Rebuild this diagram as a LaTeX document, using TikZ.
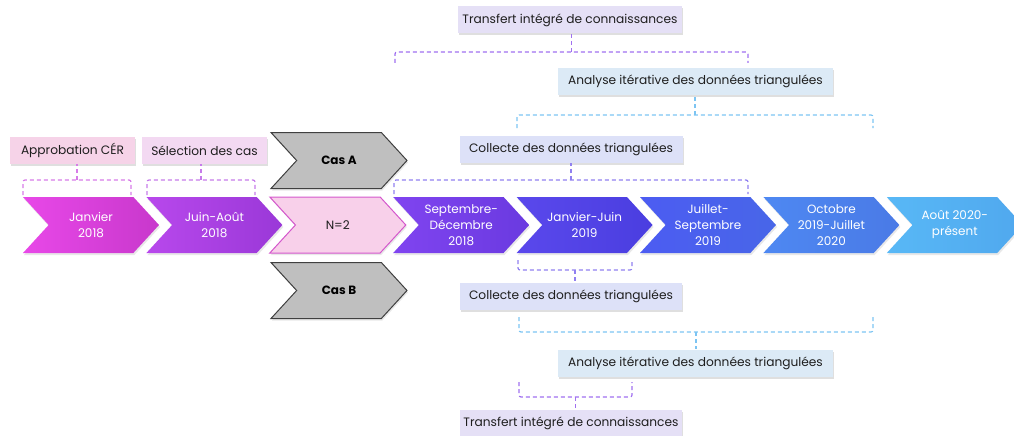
\documentclass[tikz,border=0pt]{standalone}
\usepackage{fontspec}
\setmainfont{Poppins}
\usetikzlibrary{shapes.symbols,shadows,calc}
\definecolor{txt}{HTML}{1E1E1E}
\definecolor{fAp}{HTML}{F6D3E8}
\definecolor{fSe}{HTML}{F3D9F2}
\definecolor{fTr}{HTML}{E5E0F6}
\definecolor{fAn}{HTML}{DCEAF6}
\definecolor{fCo}{HTML}{DDE1F8}
\definecolor{bAp}{HTML}{D77BE8}
\definecolor{bSe}{HTML}{C67BEA}
\definecolor{bPu}{HTML}{A070F0}
\definecolor{bBl}{HTML}{7CC4F2}
\definecolor{bLa}{HTML}{9080F0}
\definecolor{nFill}{HTML}{F8D0EA}
\definecolor{nDraw}{HTML}{D457CC}
\definecolor{casF}{HTML}{BFBFBF}
\definecolor{casD}{HTML}{404040}
\definecolor{l1}{HTML}{E848E8}\definecolor{r1}{HTML}{C838CC}
\definecolor{l2}{HTML}{B848EC}\definecolor{r2}{HTML}{9A38D8}
\definecolor{l4}{HTML}{8044F0}\definecolor{r4}{HTML}{6A3AE0}
\definecolor{l5}{HTML}{5A48EC}\definecolor{r5}{HTML}{4A3EE0}
\definecolor{l6}{HTML}{4C5CF2}\definecolor{r6}{HTML}{4866E8}
\definecolor{l7}{HTML}{4E88F2}\definecolor{r7}{HTML}{4A7AE6}
\definecolor{l8}{HTML}{58B8F6}\definecolor{r8}{HTML}{50A8EE}
\begin{document}
\begin{tikzpicture}[x=1pt,y=-1pt,
  chev/.style={signal, signal to=east, signal from=west, signal pointer angle=95,
    minimum width=136pt, minimum height=56pt, inner sep=0pt, text=white, align=center,
    font=\fontsize{12}{16}\selectfont,
    drop shadow={opacity=0.18, shadow xshift=1pt, shadow yshift=-2pt}},
  lbl/.style={rectangle, minimum height=27pt, inner sep=0pt, text=txt,
    font=\fontsize{12.2}{14}\selectfont,
    drop shadow={opacity=0.25, shadow xshift=1pt, shadow yshift=-2pt}},
  brk/.style={dash pattern=on 4pt off 3pt, line width=1.2pt, rounded corners=2pt}]
\useasboundingbox (0,0) rectangle (1014,436);

% chevrons
\node[chev, left color=l1, right color=r1] (c1) at (91,225) {Janvier\\2018};
\node[chev, left color=l2, right color=r2] (c2) at (214.4,225) {Juin-Août\\2018};
\node[chev, fill=nFill, draw=nDraw, line width=1pt, text=txt] (c3) at (337.8,225) {N=2};
\node[chev, left color=l4, right color=r4] (c4) at (461.2,225) {Septembre-\\Décembre\\2018};
\node[chev, left color=l5, right color=r5] (c5) at (584.6,225) {Janvier-Juin\\2019};
\node[chev, left color=l6, right color=r6] (c6) at (708,225) {Juillet-\\Septembre\\2019};
\node[chev, left color=l7, right color=r7] (c7) at (831.4,225) {Octobre\\2019-Juillet\\2020};
\node[chev, left color=l8, right color=r8] (c8) at (954.8,225) {Août 2020-\\présent};

\node[chev, fill=casF, draw=casD, line width=1pt, text=black, font=\fontsize{12}{14}\selectfont\bfseries] (ca) at (339,160.5) {Cas A};
\node[chev, fill=casF, draw=casD, line width=1pt, text=black, font=\fontsize{12}{14}\selectfont\bfseries] (cb) at (339,290.5) {Cas B};

% label boxes
\node[lbl, fill=fAp, minimum width=125pt] (ap) at (72.5,150.5) {Approbation CÉR};
\node[lbl, fill=fSe, minimum width=125pt] (se) at (204.5,150.5) {Sélection des cas};
\node[lbl, fill=fTr, minimum width=224pt] (tr1) at (570,20) {Transfert intégré de connaissances};
\node[lbl, fill=fAn, minimum width=275pt] (an1) at (695.5,81.5) {Analyse itérative des données triangulées};
\node[lbl, fill=fCo, minimum width=223pt] (co1) at (571,149.5) {Collecte des données triangulées};
\node[lbl, fill=fCo, minimum width=222pt] (co2) at (571,296.5) {Collecte des données triangulées};
\node[lbl, fill=fAn, minimum width=275pt] (an2) at (695.5,363) {Analyse itérative des données triangulées};
\node[lbl, fill=fTr, minimum width=222pt] (tr2) at (571,423) {Transfert intégré de connaissances};

% brackets (upward)
\coordinate (aL) at (23,195); \coordinate (aR) at (131,195);
\draw[brk, bAp] (aL) -- ++(0,-15) -| (aR);
\path ($(aL)!0.5!(aR)$) ++(0,-15) coordinate (aM);
\draw[brk, bAp] (aM) -- (aM |- ap.south);

\coordinate (sL) at (147,195); \coordinate (sR) at (255,195);
\draw[brk, bSe] (sL) -- ++(0,-15) -| (sR);
\path ($(sL)!0.5!(sR)$) ++(0,-15) coordinate (sM);
\draw[brk, bSe] (sM) -- (sM |- se.south);

\coordinate (tL) at (395,63); \coordinate (tR) at (748,63);
\draw[brk, bPu] (tL) -- ++(0,-11) -| (tR);
\path ($(tL)!0.5!(tR)$) ++(0,-11) coordinate (tM);
\draw[brk, bPu] (tM) -- (tM |- tr1.south);

\coordinate (nL) at (517,128); \coordinate (nR) at (873,128);
\draw[brk, bBl] (nL) -- ++(0,-13) -| (nR);
\path ($(nL)!0.5!(nR)$) ++(0,-13) coordinate (nM);
\draw[brk, bBl] (nM) -- (nM |- an1.south);

\coordinate (kL) at (394,194); \coordinate (kR) at (748,194);
\draw[brk, bLa] (kL) -- ++(0,-14) -| (kR);
\path ($(kL)!0.5!(kR)$) ++(0,-14) coordinate (kM);
\draw[brk, bLa] (kM) -- (kM |- co1.south);

% brackets (downward)
\coordinate (jL) at (518,260); \coordinate (jR) at (632,260);
\draw[brk, bLa] (jL) -- ++(0,10) -| (jR);
\path ($(jL)!0.5!(jR)$) ++(0,10) coordinate (jM);
\draw[brk, bLa] (jM) -- (jM |- co2.north);

\coordinate (gL) at (519,317); \coordinate (gR) at (873,317);
\draw[brk, bBl] (gL) -- ++(0,15) -| (gR);
\path ($(gL)!0.5!(gR)$) ++(0,15) coordinate (gM);
\draw[brk, bBl] (gM) -- (gM |- an2.north);

\coordinate (hL) at (519,382); \coordinate (hR) at (632,382);
\draw[brk, bPu] (hL) -- ++(0,15) -| (hR);
\path ($(hL)!0.5!(hR)$) ++(0,15) coordinate (hM);
\draw[brk, bPu] (hM) -- (hM |- tr2.north);
\end{tikzpicture}
\end{document}
